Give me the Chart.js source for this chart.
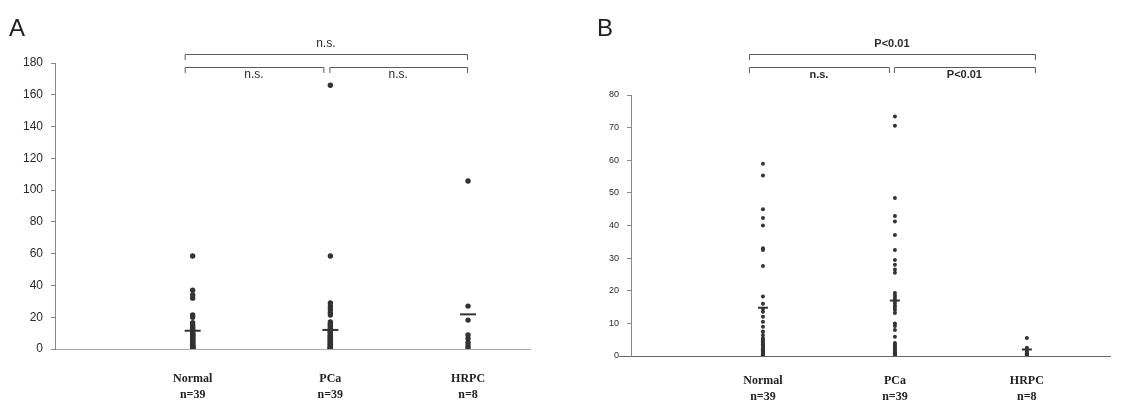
<!DOCTYPE html>
<html>
<head>
<meta charset="utf-8">
<script src="https://cdn.jsdelivr.net/npm/chart.js@4"></script>
<style>
  html, body { margin: 0; padding: 0; background: #fff; }
  #wrap { position: relative; width: 1124px; height: 406px; }
  .panel { position: absolute; top: 0; height: 406px; }
  #panelA { left: 0; width: 560px; }
  #panelB { left: 560px; width: 564px; }
</style>
</head>
<body>
<div id="wrap">
  <div class="panel" id="panelA"><canvas id="chartA"></canvas></div>
  <div class="panel" id="panelB"><canvas id="chartB"></canvas></div>
</div>
<script>
// ── data ─────────────────────────────────────────────────────────────────────
const groups = ['Normal', 'PCa', 'HRPC'];
const groupN = ['n=39', 'n=39', 'n=8'];

// panel A
const aNormal = [58.5, 37, 34, 32, 21.5, 20, 16.6, 15, 14, 13, 12, 11.5, 11, 10, 9.5, 9, 8.5, 8, 7.5, 7,
                 6.5, 6, 5.5, 5, 4.5, 4, 3.5, 3, 2.5, 2, 1.8, 1.5, 1.2, 1, 0.8, 0.5, 0.3, 0, 0];
const aPCa    = [166, 58.5, 29, 27, 25, 23, 21.4, 17, 16, 15, 14, 13, 12, 11.5, 11, 10.5, 10, 9, 8.5, 8,
                 7.5, 7, 6.5, 6, 5.5, 5, 4.5, 4, 3.5, 3, 2.5, 2, 1.5, 1, 0.7, 0.5, 0.3, 0, 0];
const aHRPC   = [105.7, 27, 18.2, 8.8, 6.5, 4, 2, 0.5];
const aMeans  = [11.5, 12, 21.8];
const aTicks  = { min: 0, max: 180, step: 20 };
const aSig    = ['n.s.', 'n.s.', 'n.s.'];   // all, normal-PCa, PCa-HRPC

// panel B
const bNormal = [58.9, 55.3, 45, 42.3, 40, 33, 32.5, 27.6, 18.2, 16, 14.5, 13.6, 12, 10.5, 9, 7.5, 6.4, 5.5, 5, 4.5,
                 4, 3.6, 3.2, 2.8, 2.4, 2, 1.8, 1.5, 1.2, 1, 0.8, 0.6, 0.5, 0.4, 0.3, 0.2, 0.1, 0, 0];
const bPCa    = [73.4, 70.6, 48.4, 42.9, 41.2, 37.1, 32.5, 29.4, 28, 26.5, 25.5, 19.3, 18.5, 17.8, 17, 16.3, 15.5, 14.8, 14.1, 13.2,
                 10, 9.2, 8, 5.9, 4, 3.5, 3, 2.5, 2, 1.6, 1.2, 1, 0.8, 0.6, 0.4, 0.2, 0, 0, 0];
const bHRPC   = [5.5, 2.5, 1.5, 1, 0.8, 0.5, 0.3, 0];
const bMeans  = [14.8, 17, 2];
const bTicks  = { min: 0, max: 80, step: 10 };
const bSig    = ['P<0.01', 'n.s.', 'P<0.01'];

const INK = '#2a2a2a';

// ── brackets / panel letter plugin ───────────────────────────────────────────
const sigPlugin = {
  id: 'sig',
  afterDraw(chart, args, opts) {
    const ctx = chart.ctx;
    const xs = chart.scales.x;
    const px = i => xs.getPixelForValue(i);
    ctx.save();
    ctx.strokeStyle = '#5a5a5a';
    ctx.lineWidth = 1;
    ctx.fillStyle = INK;
    ctx.textAlign = 'center';
    ctx.textBaseline = 'middle';

    opts.brackets.forEach(b => {
      const x1 = px(b.from) + b.dx1, x2 = px(b.to) + b.dx2;
      ctx.beginPath();
      ctx.moveTo(x1 + 0.5, b.y + 6);
      ctx.lineTo(x1 + 0.5, b.y + 0.5);
      ctx.lineTo(x2 + 0.5, b.y + 0.5);
      ctx.lineTo(x2 + 0.5, b.y + 6);
      ctx.stroke();
      ctx.font = opts.font;
      ctx.fillText(b.label, (x1 + x2) / 2, b.ty);
    });

    ctx.font = '24px "Liberation Sans", Arial, sans-serif';
    ctx.textAlign = 'left';
    ctx.fillStyle = '#222';
    ctx.fillText(opts.letter, opts.letterX, 29);

    if (opts.axisStub) {
      const ca = chart.chartArea;
      ctx.strokeStyle = '#666';
      ctx.beginPath();
      ctx.moveTo(ca.left - opts.axisStub, ca.bottom + 0.5);
      ctx.lineTo(ca.left, ca.bottom + 0.5);
      ctx.stroke();
    }
    ctx.restore();
  }
};

function groupData(arrs) {
  const pts = [];
  arrs.forEach((vals, i) => vals.forEach(v => pts.push({ x: i + 1, y: v })));
  return pts;
}

function makeChart(id, cfg) {
  return new Chart(document.getElementById(id), {
    type: 'scatter',
    data: {
      datasets: [
        {
          data: groupData(cfg.values),
          pointRadius: cfg.dot,
          pointBackgroundColor: '#333',
          pointBorderWidth: 0,
        },
        {
          data: cfg.means.map((m, i) => ({ x: i + 1, y: m })),
          pointStyle: 'line',
          pointRadius: cfg.bar,
          borderColor: '#333',
          pointBorderWidth: 2,
        },
      ],
    },
    options: {
      responsive: true,
      maintainAspectRatio: false,
      animation: false,
      events: [],
      layout: { padding: cfg.padding },
      plugins: {
        legend: { display: false },
        tooltip: { enabled: false },
        sig: cfg.sig,
      },
      scales: {
        x: {
          type: 'linear',
          min: 0,
          max: cfg.xMax,
          afterBuildTicks: s => { s.ticks = groups.map((g, i) => ({ value: i + 1 })); },
          afterFit: s => { s.height = cfg.xHeight; },
          grid: { display: false, drawTicks: false },
          border: { color: cfg.xColor, dash: cfg.xDash, width: 1 },
          ticks: {
            autoSkip: false,
            maxRotation: 0,
            padding: cfg.xPad,
            color: '#222',
            font: { family: '"Liberation Serif", "Times New Roman", serif', size: 12, weight: 'bold', lineHeight: 1.35 },
            callback: v => [groups[v - 1], groupN[v - 1]],
          },
        },
        y: {
          min: cfg.ticks.min,
          max: cfg.ticks.max,
          afterFit: s => { s.width = cfg.yWidth; },
          grid: { drawOnChartArea: false, drawTicks: true, tickLength: 4, color: '#888' },
          border: { color: '#888', width: 1 },
          ticks: {
            stepSize: cfg.ticks.step,
            padding: 8,
            color: INK,
            font: { family: '"Liberation Sans", Arial, sans-serif', size: cfg.yFont },
          },
        },
      },
    },
    plugins: [sigPlugin],
  });
}

makeChart('chartA', {
  values: [aNormal, aPCa, aHRPC],
  means: aMeans,
  ticks: aTicks,
  dot: 2.7,
  bar: 8,
  xMax: 3.45,
  padding: { top: 63, right: 30, bottom: 0, left: 0 },
  yWidth: 55,
  yFont: 12,
  xHeight: 57,
  xPad: 22,
  xColor: '#aaa',
  xDash: [2, 2],
  sig: {
    letter: 'A', letterX: 9,
    font: '12px "Liberation Sans", Arial, sans-serif',
    brackets: [
      { from: 1, to: 3, dx1: -8, dx2: -1, y: 54, ty: 44, label: aSig[0] },
      { from: 1, to: 2, dx1: -8, dx2: -7, y: 67, ty: 75, label: aSig[1] },
      { from: 2, to: 3, dx1: -1, dx2: -1, y: 67, ty: 75, label: aSig[2] },
    ],
  },
});

makeChart('chartB', {
  values: [bNormal, bPCa, bHRPC],
  means: bMeans,
  ticks: bTicks,
  dot: 2,
  bar: 5,
  xMax: 3.63,
  padding: { top: 95, right: 14, bottom: 0, left: 0 },
  yWidth: 71,
  yFont: 9,
  xHeight: 50,
  xPad: 17,
  xColor: '#666',
  xDash: [],
  sig: {
    letter: 'B', letterX: 37,
    axisStub: 12,
    font: 'bold 11px "Liberation Sans", Arial, sans-serif',
    brackets: [
      { from: 1, to: 3, dx1: -14, dx2: 8, y: 54, ty: 44, label: bSig[0] },
      { from: 1, to: 2, dx1: -14, dx2: -6, y: 67, ty: 75, label: bSig[1] },
      { from: 2, to: 3, dx1: -1, dx2: 8, y: 67, ty: 75, label: bSig[2] },
    ],
  },
});
</script>
</body>
</html>
